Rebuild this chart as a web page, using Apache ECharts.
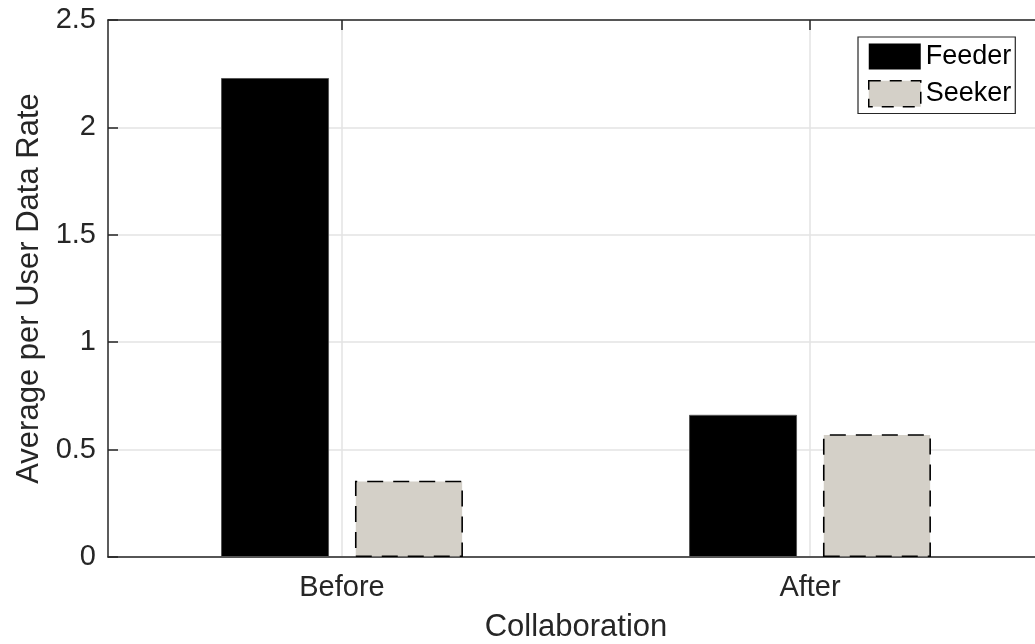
<!DOCTYPE html>
<html>
<head>
<meta charset="utf-8">
<script src="https://cdn.jsdelivr.net/npm/echarts@6/dist/echarts.min.js"></script>
<style>
html,body{margin:0;padding:0;background:#fff;}
#chart{width:1035px;height:644px;}
</style>
</head>
<body>
<div id="chart"></div>
<script>
const categories = ['Before', 'After'];
const feederValues = [2.23, 0.662];
const seekerValues = [0.355, 0.572];
const yTicks = [0, 0.5, 1, 1.5, 2, 2.5];

const FONT = '"Liberation Sans", Arial, Helvetica, sans-serif';
const AX = '#262626';

const chart = echarts.init(document.getElementById('chart'), null, {renderer: 'canvas'});
chart.setOption({
  animation: false,
  backgroundColor: '#ffffff',
  textStyle: {fontFamily: FONT},
  grid: {left: 108, top: 20, right: -9, bottom: 87, containLabel: false, outerBoundsMode: 'none'},
  legend: {
    orient: 'vertical',
    left: 858, top: 37,
    itemWidth: 52, itemHeight: 26, itemGap: 10,
    padding: [6, 4, 6, 10],
    backgroundColor: '#ffffff',
    borderColor: AX, borderWidth: 1.2, borderRadius: 0,
    textStyle: {fontFamily: FONT, fontSize: 27, color: '#000'},
    data: [
      {name: 'Feeder', icon: 'rect', itemStyle: {color: '#000000', borderWidth: 0}},
      {name: 'Seeker', icon: 'rect', itemStyle: {color: '#d4d0c8', borderColor: '#000000', borderWidth: 1.5, borderType: [12, 9]}}
    ]
  },
  xAxis: [{
    type: 'category',
    data: categories,
    name: 'Collaboration',
    nameLocation: 'middle',
    nameGap: 55,
    nameTextStyle: {fontSize: 31, color: AX, fontFamily: FONT},
    axisLine: {lineStyle: {color: AX, width: 1.5}},
    axisTick: {inside: true, length: 10, alignWithLabel: true, lineStyle: {color: AX, width: 1.5}},
    axisLabel: {fontSize: 29, color: AX, margin: 16, fontFamily: FONT},
    splitLine: {show: true, alignWithLabel: true, lineStyle: {color: '#e3e3e3', width: 1.5}}
  }, {
    type: 'category',
    data: categories,
    position: 'top',
    axisLine: {show: true, lineStyle: {color: AX, width: 1.5}},
    axisTick: {show: true, inside: true, length: 10, alignWithLabel: true, lineStyle: {color: AX, width: 1.5}},
    axisLabel: {show: false},
    splitLine: {show: false}
  }],
  yAxis: {
    type: 'value',
    min: 0, max: 2.5, interval: 0.5,
    name: 'Average per User Data Rate',
    nameLocation: 'middle',
    nameGap: 58,
    nameTextStyle: {fontSize: 31, color: AX, fontFamily: FONT},
    axisLine: {show: true, lineStyle: {color: AX, width: 1.5}},
    axisTick: {show: true, inside: true, length: 10, lineStyle: {color: AX, width: 1.5}},
    axisLabel: {
      fontSize: 29, color: AX, margin: 12, fontFamily: FONT,
      formatter: function (v) { return yTicks.indexOf(v) >= 0 ? String(v) : ''; }
    },
    splitLine: {show: true, lineStyle: {color: '#e3e3e3', width: 1.5}}
  },
  series: [{
    name: 'Feeder',
    type: 'bar',
    data: feederValues,
    barWidth: 108,
    barGap: '24%',
    itemStyle: {color: '#000000', borderColor: '#555555', borderWidth: 1}
  }, {
    name: 'Seeker',
    type: 'bar',
    data: seekerValues,
    barWidth: 108,
    barGap: '24%',
    itemStyle: {color: '#d4d0c8', borderColor: '#000000', borderWidth: 1.6, borderType: [16, 10]}
  }]
});
</script>
</body>
</html>
